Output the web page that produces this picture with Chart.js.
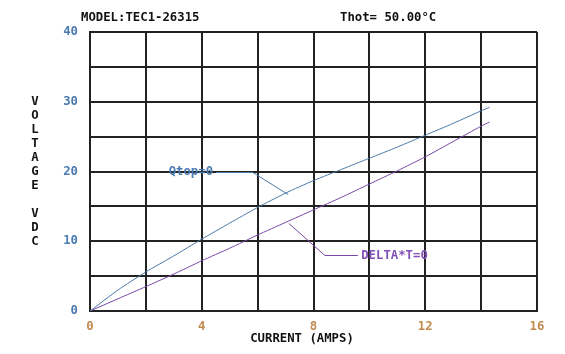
<!DOCTYPE html>
<html>
<head>
<meta charset="utf-8">
<script src="https://cdn.jsdelivr.net/npm/chart.js@4/dist/chart.umd.min.js"></script>
<style>
  html, body { margin: 0; padding: 0; background: #ffffff; }
  canvas { display: block; }
</style>
</head>
<body>
<canvas id="c" width="565" height="354"></canvas>
<script>
// ---- Data ----
const currentQtop = [0, 1, 2, 3, 4, 5, 6, 7, 8, 9, 10, 11, 12, 13, 14, 14.3];
const voltageQtop = [0, 3.0, 5.6, 7.9, 10.3, 12.6, 14.85, 16.9, 18.7, 20.3, 21.9, 23.5, 25.2, 26.9, 28.7, 29.2];
const currentDelta = [0, 1, 2, 3, 4, 5, 6, 7, 8, 9, 10, 11, 12, 13, 14, 14.3];
const voltageDelta = [0, 1.75, 3.5, 5.3, 7.2, 9.0, 10.9, 12.7, 14.5, 16.3, 18.2, 20.1, 22.1, 24.3, 26.5, 27.1];
const xTickLabels = [0, 4, 8, 12, 16];
const yTickLabels = [0, 10, 20, 30, 40];
const titleLeft = "MODEL:TEC1-26315";
const titleRight = "Thot= 50.00°C";
const xTitle = "CURRENT (AMPS)";
const yTitle = ["V","O","L","T","A","G","E","","V","D","C"];
const qtopLabel = "Qtop=0";
const deltaLabel = "DELTA*T=0";

const BLUE = "#4a7aaa";
const PURPLE = "#7a48a8";
const BLUE_TXT = "#4a7ab0";
const PURPLE_TXT = "#8050b8";
const TAN = "#c08a50";
const GRID = "#222222";
const FONT = "bold 12.3px 'DejaVu Sans Mono', 'Liberation Mono', monospace";

const toPts = (xs, ys) => xs.map((x, i) => ({ x: x, y: ys[i] }));

// Annotation callouts in data coordinates
const callouts = [
  { text: qtopLabel, color: BLUE_TXT, line: BLUE, textX: 3.61, textY: 20,
    path: [[4.51, 20], [5.83, 20], [7.09, 16.8]] },
  { text: deltaLabel, color: PURPLE_TXT, line: PURPLE, textX: 10.9, textY: 8,
    path: [[9.59, 8], [8.41, 8], [7.12, 12.6]] }
];

const textPlugin = {
  id: 'textPlugin',
  afterDraw(chart) {
    const ctx = chart.ctx;
    const xs = chart.scales.x, ys = chart.scales.y;
    ctx.save();
    ctx.font = FONT;
    ctx.textBaseline = 'middle';
    // titles
    ctx.fillStyle = "#111111";
    ctx.textAlign = 'left';
    ctx.fillText(titleLeft, 81, 17.5);
    ctx.fillText(titleRight, 340, 17.5);
    // x axis title
    ctx.textAlign = 'center';
    ctx.fillText(xTitle, 302, 339);
    // y axis title, stacked letters
    yTitle.forEach((ch, i) => {
      if (ch) ctx.fillText(ch, 35, 102 + i * 14);
    });
    // callouts
    callouts.forEach(c => {
      ctx.strokeStyle = c.line;
      ctx.lineWidth = 1;
      ctx.beginPath();
      c.path.forEach((p, i) => {
        const px = xs.getPixelForValue(p[0]);
        const py = Math.round(ys.getPixelForValue(p[1])) + 0.5;
        if (i === 0) ctx.moveTo(px, py); else ctx.lineTo(px, py);
      });
      ctx.stroke();
      ctx.fillStyle = c.color;
      ctx.textAlign = 'center';
      ctx.fillText(c.text, xs.getPixelForValue(c.textX), ys.getPixelForValue(c.textY) + 0.5);
    });
    ctx.restore();
  }
};

const bgPlugin = {
  id: 'bg',
  beforeDraw(chart) {
    const ctx = chart.ctx;
    ctx.save();
    ctx.fillStyle = '#ffffff';
    ctx.fillRect(0, 0, chart.width, chart.height);
    ctx.restore();
  }
};

new Chart(document.getElementById('c'), {
  type: 'line',
  data: {
    datasets: [
      { data: toPts(currentQtop, voltageQtop), borderColor: BLUE, borderWidth: 1,
        pointRadius: 0, tension: 0.2, fill: false },
      { data: toPts(currentDelta, voltageDelta), borderColor: PURPLE, borderWidth: 1,
        pointRadius: 0, tension: 0.2, fill: false }
    ]
  },
  options: {
    responsive: false,
    animation: false,
    events: [],
    layout: { padding: { left: 0, top: 32, right: 28, bottom: 0 } },
    plugins: { legend: { display: false }, tooltip: { enabled: false }, title: { display: false } },
    scales: {
      x: {
        type: 'linear', min: 0, max: 16,
        afterFit(s) { s.height = 43; },
        border: { display: true, color: GRID, width: 2 },
        grid: { color: GRID, lineWidth: 2, drawTicks: false },
        ticks: {
          stepSize: 2, autoSkip: false, maxRotation: 0, padding: 8,
          color: TAN, font: { family: "'DejaVu Sans Mono', monospace", size: 12.3, weight: 'bold' },
          callback: v => xTickLabels.includes(v) ? String(v) : ''
        }
      },
      y: {
        type: 'linear', min: 0, max: 40,
        afterFit(s) { s.width = 90; },
        border: { display: true, color: GRID, width: 2 },
        grid: { color: GRID, lineWidth: 2, drawTicks: false },
        ticks: {
          stepSize: 5, autoSkip: false, padding: 12,
          color: BLUE_TXT, font: { family: "'DejaVu Sans Mono', monospace", size: 12.3, weight: 'bold' },
          callback: v => yTickLabels.includes(v) ? String(v) : ''
        }
      }
    }
  },
  plugins: [bgPlugin, textPlugin]
});
</script>
</body>
</html>
